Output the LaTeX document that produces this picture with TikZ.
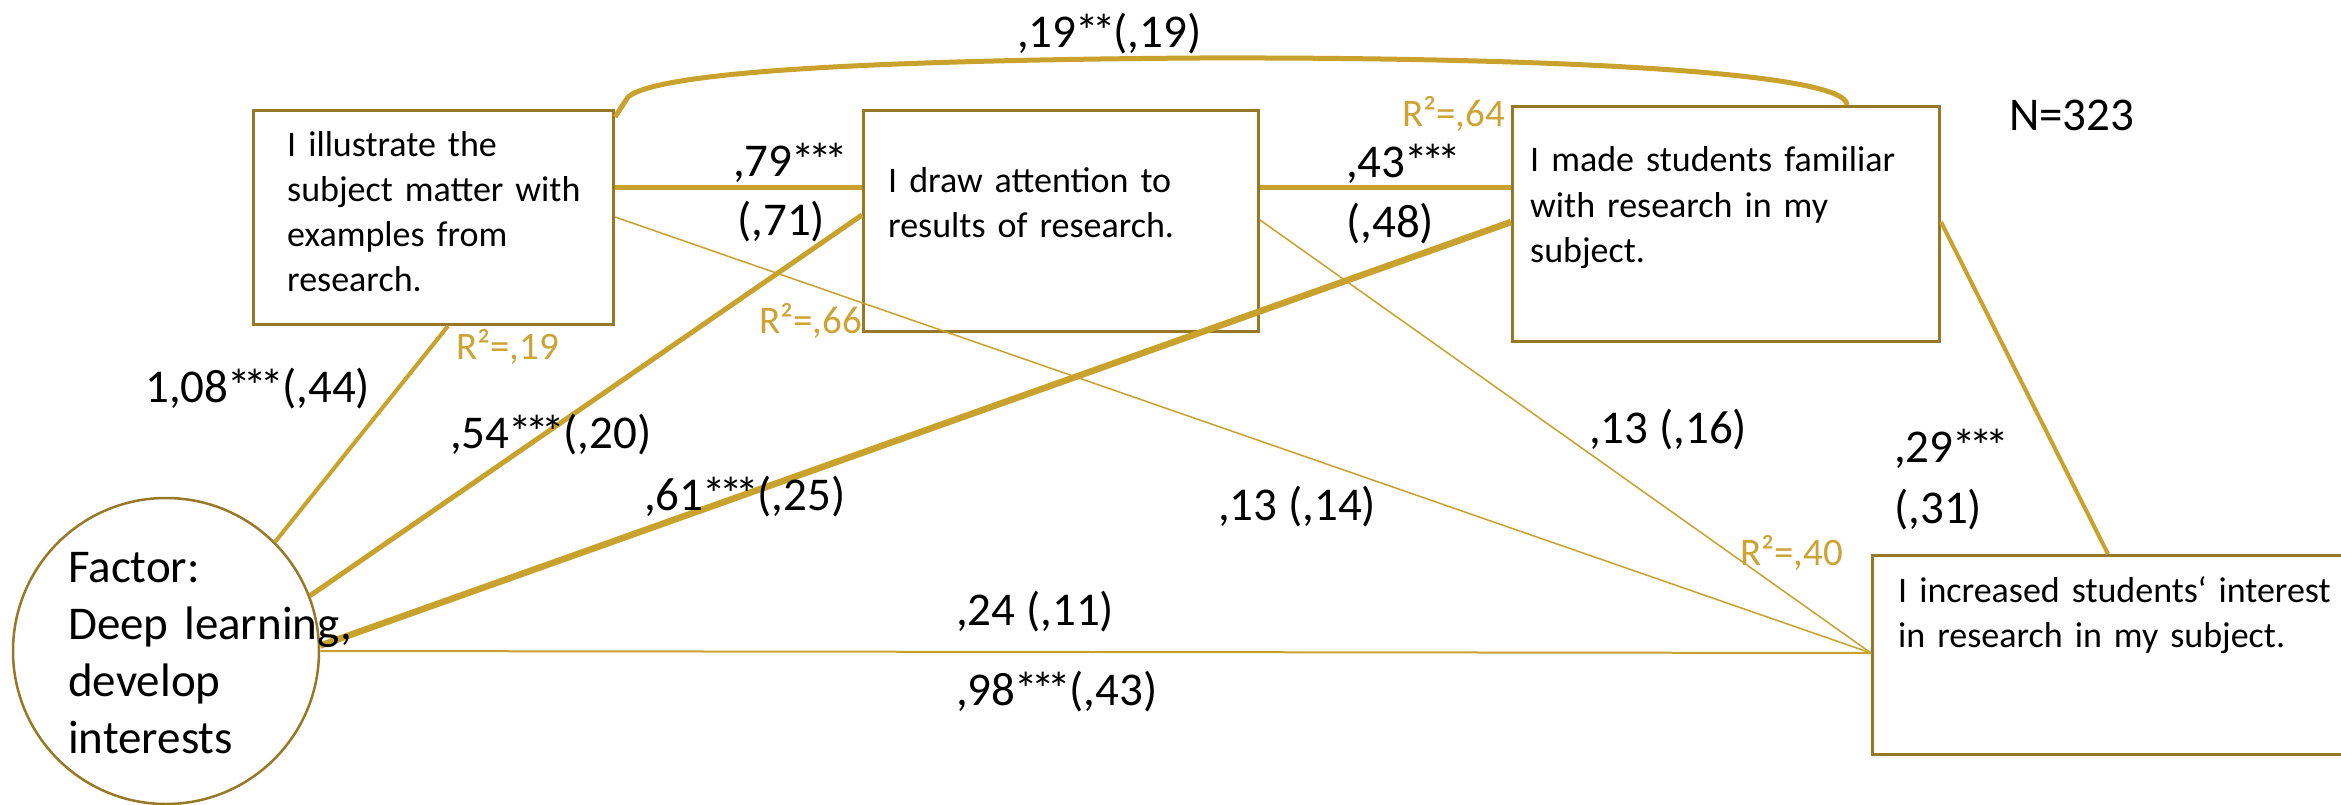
\documentclass[tikz,border=0pt]{standalone}
\usepackage{fontspec}
\setmainfont{Carlito}
\usetikzlibrary{calc}
\definecolor{gold}{RGB}{201,161,45}
\definecolor{bord}{RGB}{150,120,38}
\definecolor{rcol}{RGB}{204,163,52}
\newcommand\threestar{\kern-0.03em*\kern-0.14em*\kern-0.14em*\kern-0.04em}
\newcommand\twostar{\kern-0.03em*\kern-0.14em*\kern-0.04em}
\begin{document}
\begin{tikzpicture}[x=1pt,y=-1pt,
  box/.style={draw=bord, line width=3pt, inner sep=0pt, anchor=north west},
  btxt/.style={anchor=base west, align=left, text width=700pt, inner sep=0pt, font=\fontsize{36}{45}\selectfont},
  lbl/.style={anchor=base west, inner sep=0pt, font=\fontsize{47}{57}\selectfont},
  rlbl/.style={anchor=base west, inner sep=0pt, text=rcol, font=\fontsize{39}{45}\selectfont},
  fat/.style={draw=gold, line width=6.5pt},
  mid/.style={draw=gold, line width=5pt},
  slim/.style={draw=gold, line width=4pt},
  hair/.style={draw=gold, line width=1.5pt},
  ftxt/.style={anchor=base west, align=left, text width=400pt, inner sep=0pt, font=\fontsize{47}{57}\selectfont}
]
\clip (0,0) rectangle (2341,805);
\fill[white] (0,0) rectangle (2341,805);

% boxes and circle
\node[box, minimum width=360pt, minimum height=214pt] (b1) at (252,109) {};
\node[box, minimum width=395pt, minimum height=221pt] (b2) at (862,109) {};
\node[box, minimum width=427pt, minimum height=235pt] (b3) at (1511,105) {};
\node[box, minimum width=560pt, minimum height=199pt] (b4) at (1871,554) {};
\node[circle, draw=bord, line width=2.5pt, minimum size=306pt, inner sep=0pt] (f) at (166,651) {};

% border points
\coordinate (b1r) at ([yshift=-79pt]b1.north east);
\coordinate (b2l) at ([yshift=-79pt]b2.north west);
\coordinate (b2r) at ([yshift=-79pt]b2.north east);
\coordinate (b3l) at ([yshift=-83pt]b3.north west);
\coordinate (b1lo) at ([yshift=-108pt]b1.north east);
\coordinate (b2lo) at ([yshift=-111pt]b2.north east);
\coordinate (b4l) at ([yshift=-99pt]b4.north west);
\coordinate (b1b) at ([xshift=196pt]b1.south west);
\coordinate (b2a) at ([yshift=-106pt]b2.north west);
\coordinate (b3a) at ([yshift=-117pt]b3.north west);
\coordinate (b3r) at ([yshift=-117pt]b3.north east);
\coordinate (b4t) at ([xshift=237pt]b4.north west);
\coordinate (b1t) at ([yshift=-8pt]b1.north east);
\coordinate (b3t) at ([xshift=336pt]b3.north west);
\coordinate (kink) at (628,97);

% connectors
\draw[mid] (b1r) -- (b2l);
\draw[mid] (b2r) -- (b3l);
\draw[slim] (f.45) -- (b1b);
\draw[mid] (f.21) -- (b2a);
\draw[fat] (f.2) -- (b3a);
\draw[draw=gold, line width=2pt] (f.east) -- (b4l);
\draw[hair] (b1lo) -- (b4l);
\draw[hair] (b2lo) -- (b4l);
\draw[slim] (b3r) -- (b4t);
\draw[mid, line join=round] (b1t) -- (kink) .. controls (660,70) and (900,60) .. (1200,58) .. controls (1550,57) and (1847,72) .. (b3t);

% texts inside boxes
\node[btxt] (t1) at (287,157) {I illustrate the\\subject matter with\\examples from\\research.};
\node[btxt] (t2) at (888,193) {I draw attention to\\results of research.};
\node[btxt] (t3) at (1530,172) {I made students familiar\\with research in my\\subject.};
\node[btxt] (t4) at (1898,602) {I increased students‘ interest\\in research in my subject.};
\node[ftxt] (tf) at (68,582) {Factor:\\Deep learning,\\develop\\interests};

% coefficient labels
\node[lbl] (l1) at (1017,48) {,19\twostar(,19)};
\node[lbl] (l2) at (733,177) {,79\threestar};
\node[lbl] (l3) at (737,235) {(,71)};
\node[lbl] (l4) at (1346,178) {,43\threestar};
\node[lbl] (l5) at (1346,237) {(,48)};
\node[lbl] (l6) at (145,402) {1,08\threestar(,44)};
\node[lbl] (l7) at (450,448) {,54\threestar(,20)};
\node[lbl] (l8) at (644,510) {,61\threestar(,25)};
\node[lbl] (l9) at (956,625) {,24 (,11)};
\node[lbl] (l10) at (956,705) {,98\threestar(,43)};
\node[lbl] (l11) at (1218,520) {,13 (,14)};
\node[lbl] (l12) at (1589,443) {,13 (,16)};
\node[lbl] (l13) at (1894,462) {,29\threestar};
\node[lbl] (l14) at (1894,523) {(,31)};
\node[lbl] (l15) at (2009,131) {N=323};

% R squared labels
\node[rlbl] (r1) at (1402,127) {R²=,64};
\node[rlbl] (r2) at (759,333) {R²=,66};
\node[rlbl] (r3) at (456,359) {R²=,19};
\node[rlbl] (r4) at (1740,565) {R²=,40};
\end{tikzpicture}
\end{document}
